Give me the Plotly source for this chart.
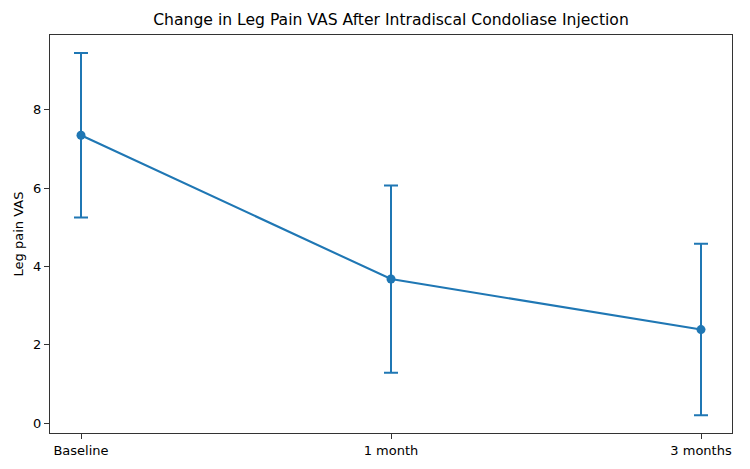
import plotly.graph_objects as go

categories = ["Baseline", "1 month", "3 months"]
means = [7.35, 3.68, 2.39]
sds = [2.1, 2.39, 2.19]
y_ticks = [0, 2, 4, 6, 8]

color = "#1f77b4"
fig = go.Figure()
fig.add_trace(go.Scatter(
    x=list(range(len(categories))), y=means,
    mode="lines+markers",
    line=dict(color=color, width=2.1),
    marker=dict(color=color, size=9),
    error_y=dict(type="data", array=sds, visible=True, color=color, thickness=2, width=7),
    showlegend=False,
))

axis_common = dict(showline=True, linecolor="#333333", linewidth=1.1, mirror=True,
                   ticks="outside", ticklen=5, tickcolor="#333333", tickwidth=1.1,
                   showgrid=False, zeroline=False,
                   tickfont=dict(family="DejaVu Sans", size=13, color="black"))

fig.update_layout(
    width=750, height=469,
    margin=dict(l=50, r=18, t=35, b=36),
    paper_bgcolor="white", plot_bgcolor="white",
    title=dict(text="Change in Leg Pain VAS After Intradiscal Condoliase Injection",
               x=391 / 750, xanchor="center",
               y=1 - 20 / 469, yanchor="middle",
               font=dict(family="DejaVu Sans", size=15.6, color="black")),
    xaxis=dict(range=[-0.1, 2.1], tickvals=list(range(len(categories))),
               ticktext=categories, **axis_common),
    yaxis=dict(range=[-0.25, 9.91], tickvals=y_ticks,
               title=dict(text="Leg pain VAS", standoff=6,
                          font=dict(family="DejaVu Sans", size=13, color="black")),
               **axis_common),
)

fig.write_html("out.html")
